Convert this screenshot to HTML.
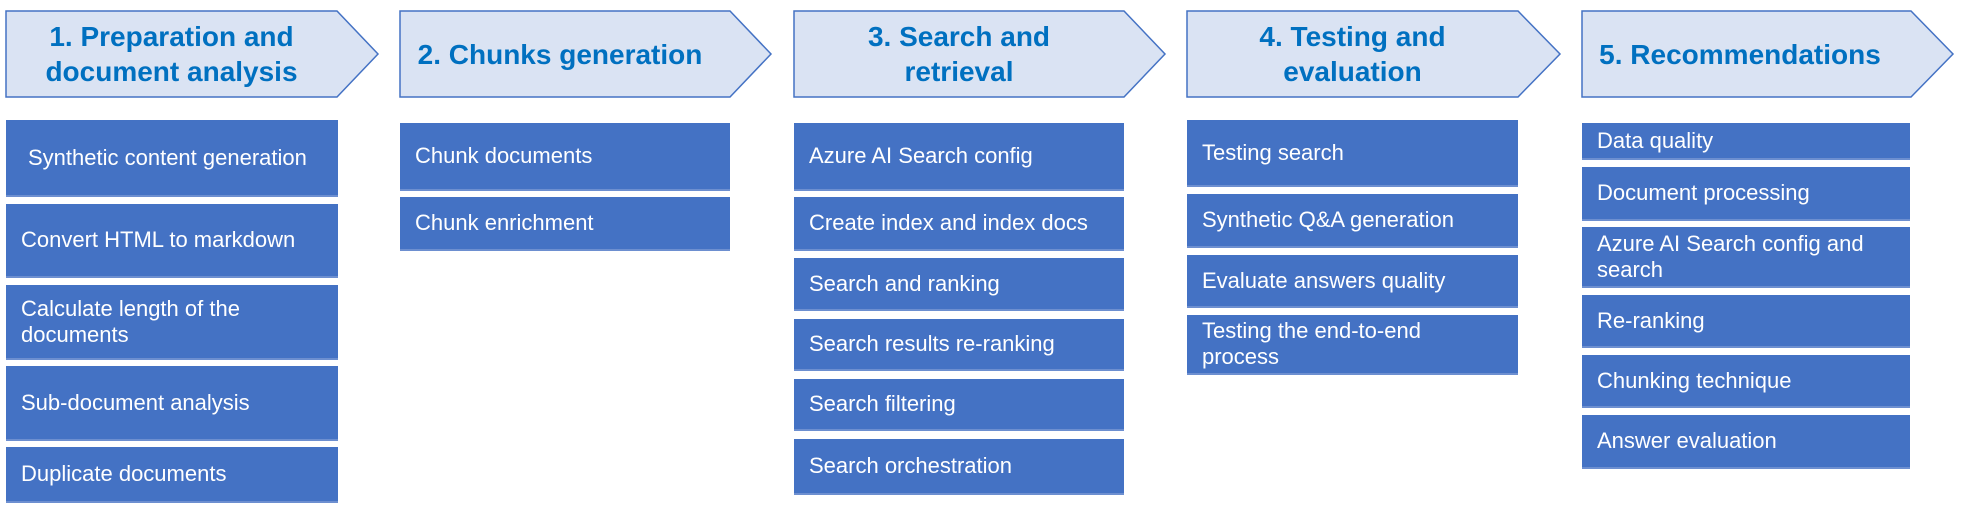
<!DOCTYPE html>
<html><head><meta charset="utf-8"><style>
body{margin:0;width:1966px;height:511px;background:#fff;position:relative;overflow:hidden;font-family:"Liberation Sans",sans-serif}
svg{position:absolute;left:0;top:0}
.h{position:absolute;color:#0070c0;font-size:28px;font-weight:bold;text-align:center;line-height:35px;display:flex;align-items:center;justify-content:center}
.b{position:absolute;background:#4472c4;color:#fff;font-size:22px;line-height:26px;display:flex;align-items:center;padding-left:15px;box-sizing:border-box;border-bottom:2px solid #6d8fd0;white-space:nowrap}
</style></head><body>
<svg width="1966" height="511">
<g fill="#dae3f3" stroke="#4472c4" stroke-width="1.5">
<polygon points="6,11 337,11 378,54 337,97 6,97"/>
<polygon points="400,11 730,11 771,54 730,97 400,97"/>
<polygon points="794,11 1124,11 1165,54 1124,97 794,97"/>
<polygon points="1187,11 1518,11 1560,54 1518,97 1187,97"/>
<polygon points="1582,11 1911,11 1953,54 1911,97 1582,97"/>
</g></svg>
<div class="h" style="left:6px;top:11px;width:331px;height:86px">1. Preparation and<br>document analysis</div>
<div class="h" style="left:410px;top:11px;width:300px;height:86px">2. Chunks generation</div>
<div class="h" style="left:794px;top:11px;width:330px;height:86px">3. Search and<br>retrieval</div>
<div class="h" style="left:1187px;top:11px;width:331px;height:86px">4. Testing and<br>evaluation</div>
<div class="h" style="left:1590px;top:11px;width:300px;height:86px">5. Recommendations</div>

<div class="b" style="left:6px;top:120px;width:332px;height:77px;padding-left:22px">Synthetic content generation</div>
<div class="b" style="left:6px;top:204px;width:332px;height:74px">Convert HTML to markdown</div>
<div class="b" style="left:6px;top:285px;width:332px;height:75px">Calculate length of the<br>documents</div>
<div class="b" style="left:6px;top:366px;width:332px;height:75px">Sub-document analysis</div>
<div class="b" style="left:6px;top:447px;width:332px;height:56px">Duplicate documents</div>

<div class="b" style="left:400px;top:123px;width:330px;height:68px">Chunk documents</div>
<div class="b" style="left:400px;top:197px;width:330px;height:54px">Chunk enrichment</div>

<div class="b" style="left:794px;top:123px;width:330px;height:68px">Azure AI Search config</div>
<div class="b" style="left:794px;top:197px;width:330px;height:54px">Create index and index docs</div>
<div class="b" style="left:794px;top:258px;width:330px;height:53px">Search and ranking</div>
<div class="b" style="left:794px;top:319px;width:330px;height:52px">Search results re-ranking</div>
<div class="b" style="left:794px;top:379px;width:330px;height:52px">Search filtering</div>
<div class="b" style="left:794px;top:439px;width:330px;height:56px">Search orchestration</div>

<div class="b" style="left:1187px;top:120px;width:331px;height:67px">Testing search</div>
<div class="b" style="left:1187px;top:194px;width:331px;height:54px">Synthetic Q&amp;A generation</div>
<div class="b" style="left:1187px;top:255px;width:331px;height:53px">Evaluate answers quality</div>
<div class="b" style="left:1187px;top:315px;width:331px;height:60px">Testing the end-to-end<br>process</div>

<div class="b" style="left:1582px;top:123px;width:328px;height:37px">Data quality</div>
<div class="b" style="left:1582px;top:167px;width:328px;height:54px">Document processing</div>
<div class="b" style="left:1582px;top:227px;width:328px;height:61px">Azure AI Search config and<br>search</div>
<div class="b" style="left:1582px;top:295px;width:328px;height:53px">Re-ranking</div>
<div class="b" style="left:1582px;top:355px;width:328px;height:53px">Chunking technique</div>
<div class="b" style="left:1582px;top:415px;width:328px;height:54px">Answer evaluation</div>
</body></html>
